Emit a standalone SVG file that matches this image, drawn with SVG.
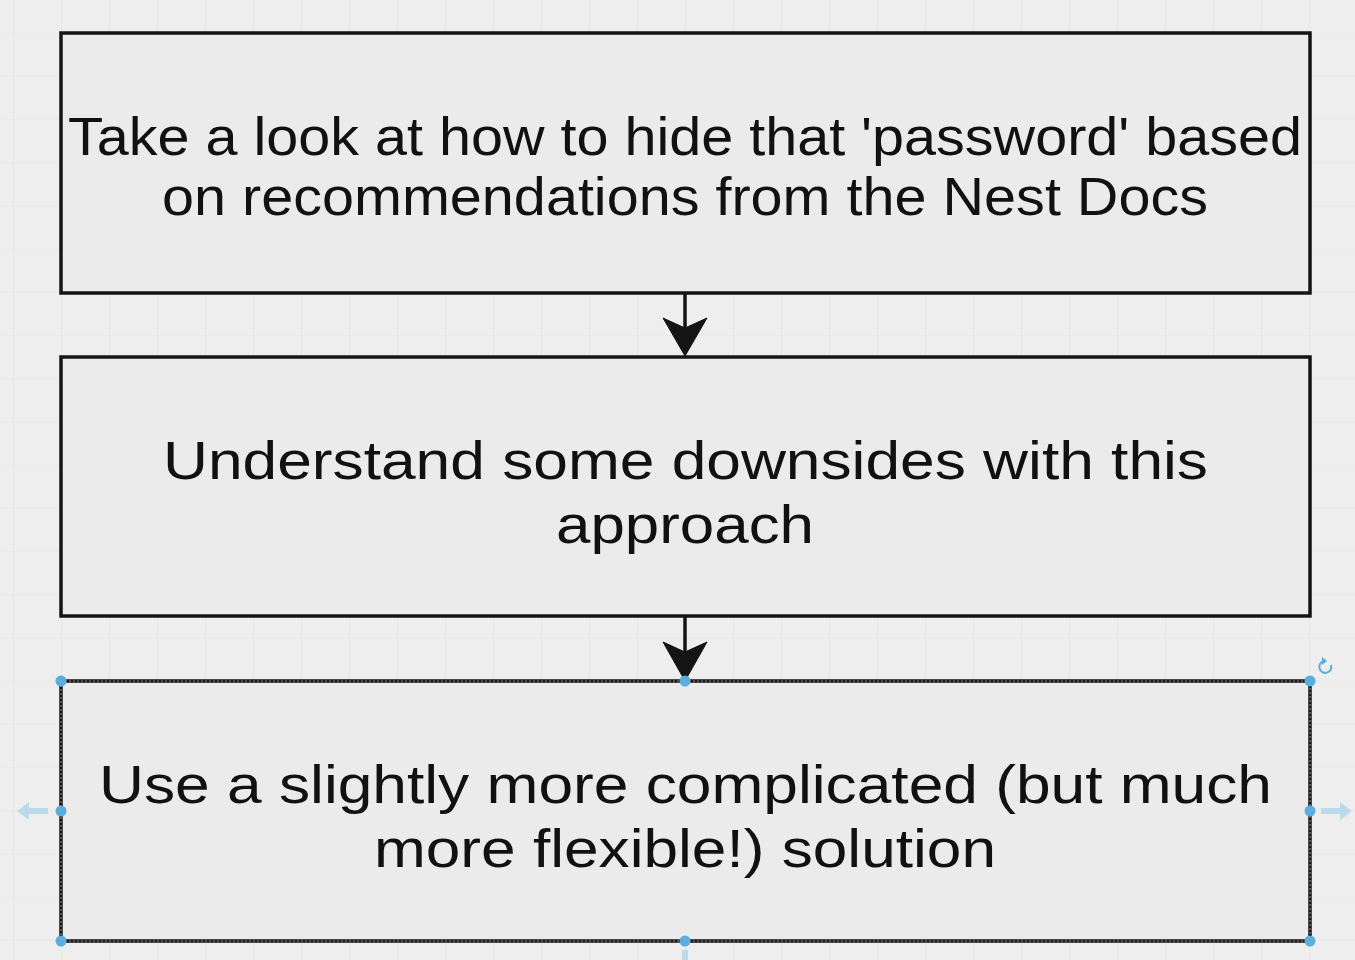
<svg xmlns="http://www.w3.org/2000/svg" width="1355" height="960" viewBox="0 0 1355 960">
  <defs>
    <pattern id="grid" x="13" y="32.6" width="48" height="43.2" patternUnits="userSpaceOnUse">
      <path d="M0 0 H48 M0 0 V43.2" fill="none" stroke="#e3e3e3" stroke-width="1.2"/>
    </pattern>
    <style>
      .box { fill: #ebebeb; stroke: #141414; stroke-width: 3.5; }
      .sel { fill: none; stroke: #ffffff; stroke-width: 1; stroke-dasharray: 2 2; opacity: 0.55; }
      .lbl { font-family: "Liberation Sans", Arial, Helvetica, sans-serif; font-size: 54px; fill: #111111; }
      .edge { stroke: #141414; stroke-width: 3.5; fill: none; }
      .head { fill: #141414; stroke: #141414; stroke-width: 1; stroke-linejoin: miter; }
      .handle { fill: #5aaddd; }
      .hint { fill: #bcd9ea; }
    </style>
  </defs>

  <rect x="0" y="0" width="1355" height="960" fill="#eeeeee"/>
  <rect x="0" y="0" width="1355" height="960" fill="url(#grid)"/>

  <g id="node1">
    <rect class="box" x="61" y="33" width="1249" height="260"/>
    <text class="lbl" x="68" y="155" textLength="1234" lengthAdjust="spacingAndGlyphs">Take a look at how to hide that 'password' based</text>
    <text class="lbl" x="162" y="215" textLength="1046" lengthAdjust="spacingAndGlyphs">on recommendations from the Nest Docs</text>
  </g>

  <g id="node2">
    <rect class="box" x="61" y="357" width="1249" height="259"/>
    <text class="lbl" x="163" y="479" textLength="1045" lengthAdjust="spacingAndGlyphs">Understand some downsides with this</text>
    <text class="lbl" x="556" y="543" textLength="258" lengthAdjust="spacingAndGlyphs">approach</text>
  </g>

  <g id="node3">
    <rect class="box" x="61" y="681" width="1249" height="260"/>
    <rect class="sel" x="61" y="681" width="1249" height="260"/>
    <text class="lbl" x="99" y="803" textLength="1173" lengthAdjust="spacingAndGlyphs">Use a slightly more complicated (but much</text>
    <text class="lbl" x="374" y="867" textLength="622" lengthAdjust="spacingAndGlyphs">more flexible!) solution</text>
  </g>

  <g id="connectors">
    <g id="edge1">
      <line class="edge" x1="685" y1="293" x2="685" y2="330"/>
      <polygon class="head" points="685,356 663,318 685,328 707,318"/>
    </g>
    <g id="edge2">
      <line class="edge" x1="685" y1="616" x2="685" y2="655"/>
      <polygon class="head" points="685,681 663,642 685,652 707,642"/>
    </g>
  </g>

  <g id="selection-handles">
    <circle class="handle" cx="61" cy="681" r="5.5"/>
    <circle class="handle" cx="685" cy="681" r="5.5"/>
    <circle class="handle" cx="1310" cy="681" r="5.5"/>
    <circle class="handle" cx="61" cy="811" r="5.5"/>
    <circle class="handle" cx="1310" cy="811" r="5.5"/>
    <circle class="handle" cx="61" cy="941" r="5.5"/>
    <circle class="handle" cx="685" cy="941" r="5.5"/>
    <circle class="handle" cx="1310" cy="941" r="5.5"/>
    <path class="hint" d="M17 811 L29 802 L29 808 L48 808 L48 814 L29 814 L29 820 Z"/>
    <path class="hint" d="M1352 811 L1340 802 L1340 808 L1321 808 L1321 814 L1340 814 L1340 820 Z"/>
    <path class="hint" d="M682 950 H688 V960 H682 Z"/>
    <path d="M1331 665 A6 6 0 1 1 1324 661" fill="none" stroke="#5aaddd" stroke-width="2"/>
    <path d="M1322 657 L1327 661 L1322 665 Z" fill="#5aaddd"/>
  </g>
</svg>
